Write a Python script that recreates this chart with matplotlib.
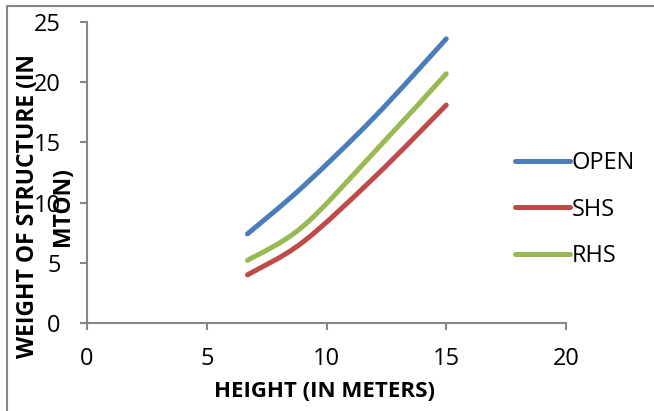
import numpy as np
import matplotlib
matplotlib.use("Agg")
import matplotlib.pyplot as plt
from matplotlib.path import Path
from matplotlib.patches import PathPatch
from matplotlib.lines import Line2D

# =========================
# DATA
# =========================

height_m = [6.7, 9, 12, 15]
open_w = [7.4, 11.3, 17.1, 23.6]
shs_w = [4.0, 6.7, 12.1, 18.1]
rhs_w = [5.2, 8.0, 14.2, 20.7]

series_names = ["OPEN", "SHS", "RHS"]
series_colors = ["#4A7EBB", "#BE4B48", "#98B954"]

plt.rcParams["font.family"] = ["Open Sans", "DejaVu Sans"]


def smooth_path(xs, ys):
    # Excel-style smoothed line: cubic bezier through the points
    pts = np.column_stack([xs, ys]).astype(float)
    ext = np.vstack([pts[0], pts, pts[-1]])
    verts = [tuple(pts[0])]
    codes = [Path.MOVETO]
    for i in range(len(pts) - 1):
        p0, p1, p2, p3 = ext[i], ext[i + 1], ext[i + 2], ext[i + 3]
        c1 = p1 + (p2 - p0) / 6
        c2 = p2 - (p3 - p1) / 6
        verts += [tuple(c1), tuple(c2), tuple(p2)]
        codes += [Path.CURVE4] * 3
    return Path(verts, codes)


fig = plt.figure(figsize=(6.54, 4.11), dpi=100)
ax = fig.add_axes([87 / 654, 88 / 411, 479 / 654, 301 / 411])

for ys, name, col in zip([open_w, shs_w, rhs_w], series_names, series_colors):
    patch = PathPatch(smooth_path(height_m, ys), facecolor="none",
                      edgecolor=col, lw=3.6, capstyle="round")
    ax.add_patch(patch)

ax.set_xlim(0, 20)
ax.set_ylim(0, 25)
ax.set_xticks([0, 5, 10, 15, 20])
ax.set_yticks([0, 5, 10, 15, 20, 25])

for s in ["top", "right"]:
    ax.spines[s].set_visible(False)
for s in ["left", "bottom"]:
    ax.spines[s].set_color("#868686")
    ax.spines[s].set_linewidth(1.5)

ax.tick_params(axis="both", direction="out", length=5, width=1.5,
               color="#868686", labelsize=17)
ax.tick_params(axis="x", pad=12)
ax.tick_params(axis="y", pad=14)

# axis titles
fig.text(325 / 654, 1 - 391 / 411, "HEIGHT (IN METERS)", fontsize=16,
         fontweight="bold", ha="center", va="center")
fig.text(28 / 654, 1 - 206 / 411, "WEIGHT OF STRUCTURE (IN", fontsize=16.5,
         fontweight="bold", ha="center", va="center", rotation=90)
fig.text(63 / 654, 1 - 207 / 411, "MTON)", fontsize=16.5,
         fontweight="bold", ha="center", va="center", rotation=90)

# legend
handles = [Line2D([], [], color=c, lw=3.6, solid_capstyle="round")
           for c in series_colors]
fig.legend(handles, series_names, loc="upper left",
           bbox_to_anchor=(494 / 654, 1 - 130 / 411), frameon=False,
           fontsize=17, handlelength=2.3, handletextpad=0.1,
           labelspacing=0.95)

# outer chart border (top and left visible)
fig.add_artist(Line2D([7 / 654, 7 / 654, 1], [0, 1 - 6 / 411, 1 - 6 / 411],
                      color="#868686", lw=1.5, transform=fig.transFigure))

plt.savefig("out.png", dpi=100)
